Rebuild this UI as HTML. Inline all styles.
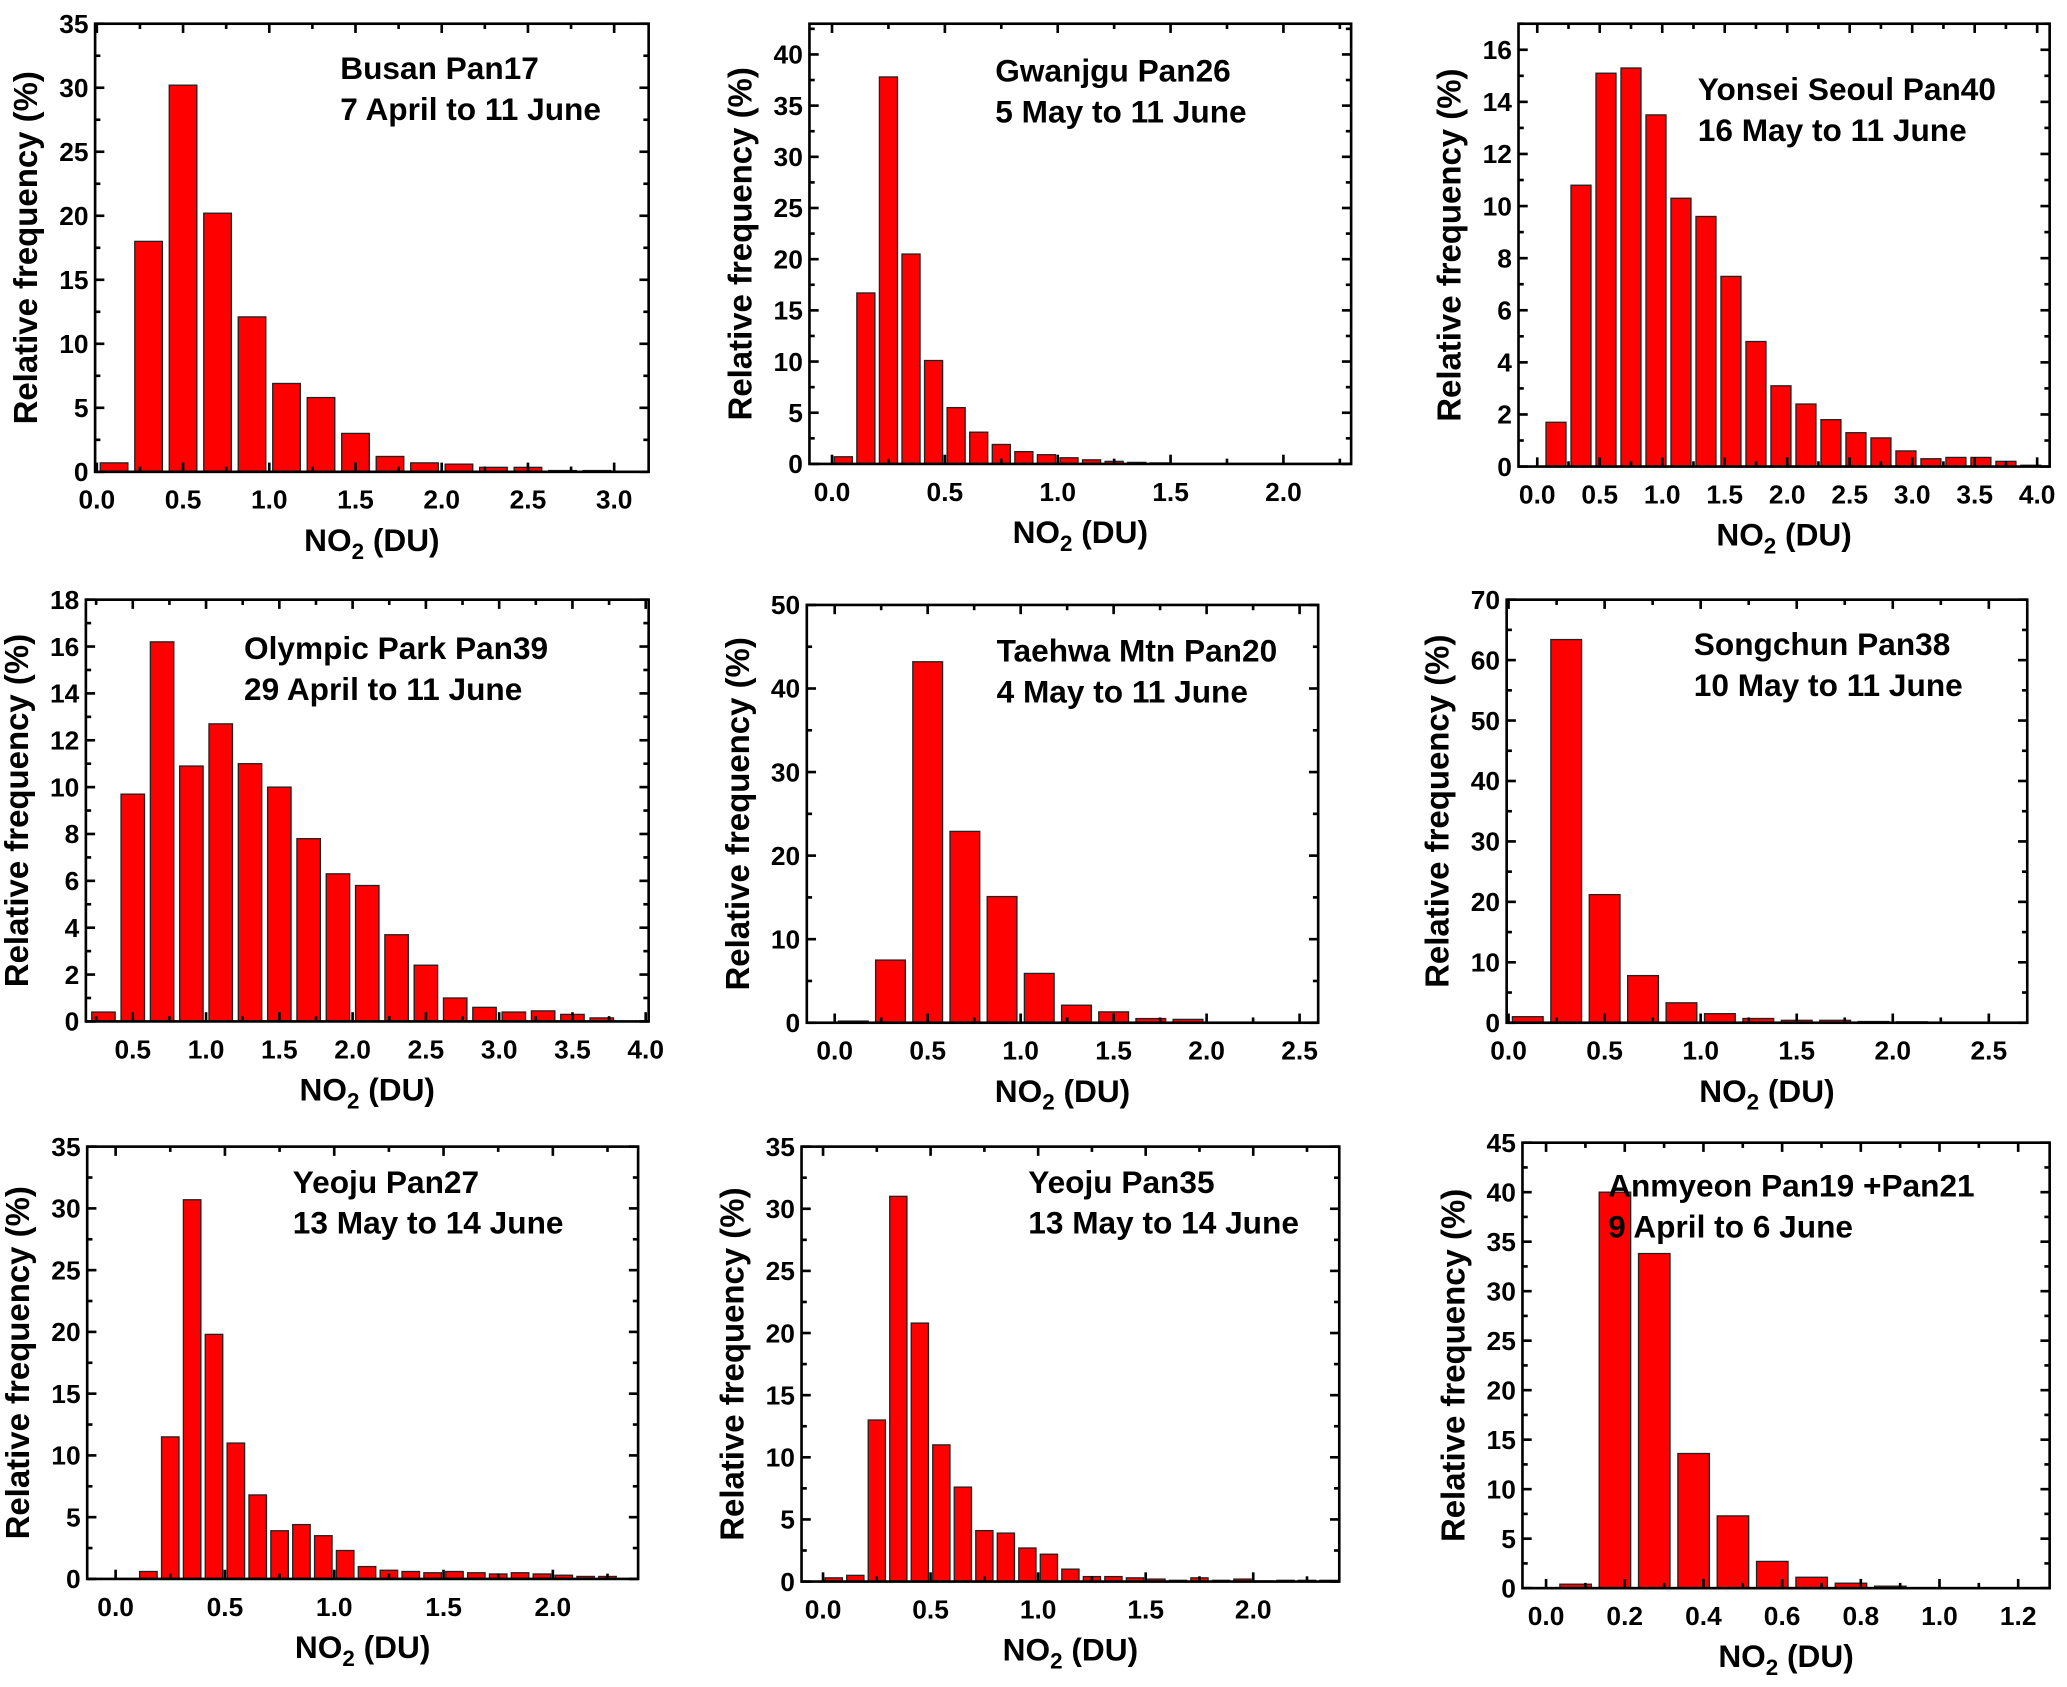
<!DOCTYPE html>
<html><head><meta charset="utf-8"><style>
html,body{margin:0;padding:0;background:#fff;}
svg{display:block;}
text{font-family:"Liberation Sans",Arial,sans-serif;font-weight:bold;fill:#000;}
</style></head><body>
<svg id="fig" width="2067" height="1687" viewBox="0 0 1568 1280" xmlns="http://www.w3.org/2000/svg"></svg>
<script>
// ---- data (relative frequency %, bin start and step in DU) ----
const busanValues = [0.7, 18.0, 30.2, 20.2, 12.1, 6.9, 5.8, 3.0, 1.2, 0.7, 0.6, 0.35, 0.35, 0.1, 0.1];
const gwangjuValues = [0.7, 16.7, 37.8, 20.5, 10.1, 5.5, 3.1, 1.9, 1.2, 0.9, 0.6, 0.4, 0.25, 0.15, 0.1];
const yonseiValues = [1.7, 10.8, 15.1, 15.3, 13.5, 10.3, 9.6, 7.3, 4.8, 3.1, 2.4, 1.8, 1.3, 1.1, 0.6, 0.3, 0.35, 0.35, 0.2, 0.05];
const olympicValues = [0.4, 9.7, 16.2, 10.9, 12.7, 11.0, 10.0, 7.8, 6.3, 5.8, 3.7, 2.4, 1.0, 0.6, 0.4, 0.45, 0.3, 0.15];
const taehwaValues = [0.2, 7.5, 43.2, 22.9, 15.1, 5.9, 2.1, 1.3, 0.5, 0.4, 0.05];
const songchunValues = [1.0, 63.4, 21.2, 7.8, 3.3, 1.5, 0.7, 0.4, 0.4, 0.2, 0.15, 0.1, 0.05];
const yeoju27Values = [0, 0.6, 11.5, 30.7, 19.8, 11.0, 6.8, 3.9, 4.4, 3.5, 2.3, 1.0, 0.7, 0.6, 0.5, 0.6, 0.5, 0.4, 0.5, 0.4, 0.3, 0.2, 0.2];
const yeoju35Values = [0.3, 0.5, 13.0, 31.0, 20.8, 11.0, 7.6, 4.1, 3.9, 2.7, 2.2, 1.0, 0.4, 0.4, 0.3, 0.2, 0.1, 0.3, 0.1, 0.2, 0.05, 0.1, 0.1, 0.1];
const anmyeonValues = [0.4, 40.0, 33.8, 13.6, 7.3, 2.7, 1.1, 0.5, 0.2];
const titles = [
 ["Busan Pan17","7 April  to 11 June"],["Gwanjgu Pan26","5 May to 11 June"],["Yonsei Seoul Pan40","16 May to 11 June"],
 ["Olympic Park Pan39","29 April to 11 June"],["Taehwa Mtn Pan20","4 May to 11 June"],["Songchun Pan38","10 May to 11 June"],
 ["Yeoju Pan27","13 May to 14 June"],["Yeoju Pan35","13 May to 14 June"],["Anmyeon Pan19 +Pan21","9 April to 6 June"]];
const binStart = [0.1,0.05,0.15,0.3,0.1,0.1,0.05,0.05,0.075];
const binStep = [0.2,0.1,0.2,0.2,0.2,0.2,0.1,0.1,0.1];
const xTickLabels = [
 ["0.0","0.5","1.0","1.5","2.0","2.5","3.0"],["0.0","0.5","1.0","1.5","2.0"],["0.0","0.5","1.0","1.5","2.0","2.5","3.0","3.5","4.0"],
 ["0.5","1.0","1.5","2.0","2.5","3.0","3.5","4.0"],["0.0","0.5","1.0","1.5","2.0","2.5"],["0.0","0.5","1.0","1.5","2.0","2.5"],
 ["0.0","0.5","1.0","1.5","2.0"],["0.0","0.5","1.0","1.5","2.0"],["0.0","0.2","0.4","0.6","0.8","1.0","1.2"]];
const yTickLabels = [
 ["0","5","10","15","20","25","30","35"],["0","5","10","15","20","25","30","35","40"],["0","2","4","6","8","10","12","14","16"],
 ["0","2","4","6","8","10","12","14","16","18"],["0","10","20","30","40","50"],["0","10","20","30","40","50","60","70"],
 ["0","5","10","15","20","25","30","35"],["0","5","10","15","20","25","30","35"],["0","5","10","15","20","25","30","35","40","45"]];
const seriesList = [busanValues,gwangjuValues,yonseiValues,olympicValues,taehwaValues,songchunValues,yeoju27Values,yeoju35Values,anmyeonValues];
const xDomains = [[-0.01,3.2],[-0.1,2.3],[-0.15,4.1],[0.18,4.02],[-0.15,2.6],[-0.01,2.7],[-0.13,2.39],[-0.1,2.4],[-0.06,1.28]];
const yMaxes = [35,43,17,18,50,70,35,35,45];

// ---- layout ----
const boxes = [[72,18,492,358],[614,18,1025,352],[1152,18,1555,354],[65,455,492,775],[612,459,1000,776],[1143,455,1538,776],[66,870,484,1198],[608,870,1016,1200],[1155,867,1555,1205]];
const titlePos = [[258,60],[755,62],[1288,76],[185,500],[756,502],[1285,497],[222,905],[780,905],[1220,908]];
const NS="http://www.w3.org/2000/svg";
const svg=document.getElementById('fig');
function mk(tag,attrs,parent){const e=document.createElementNS(NS,tag);for(const k in attrs)e.setAttribute(k,attrs[k]);(parent||svg).appendChild(e);return e;}

seriesList.forEach((vals,p)=>{
  const [x0,y0,x1,y1]=boxes[p];const [dmin,dmax]=xDomains[p];const ymax=yMaxes[p];
  const sx=v=>x0+(v-dmin)/(dmax-dmin)*(x1-x0);
  const sy=v=>y1-v/ymax*(y1-y0);
  const g=mk('g',{});
  
  
  const bw=binStep[p]*0.8;
  vals.forEach((v,i)=>{
    const c=binStart[p]+i*binStep[p];
    const r=mk('rect',{x:sx(c-bw/2),y:sy(v),width:sx(c+bw/2)-sx(c-bw/2),height:y1-sy(v),fill:'#ff0000',stroke:'#222','stroke-width':1},g);
    
    
  });
  const fr=mk('rect',{x:x0,y:y0,width:x1-x0,height:y1-y0,fill:'none',stroke:'#000','stroke-width':2},g);
  
  
  const xl=xTickLabels[p];const xs=parseFloat(xl[1])-parseFloat(xl[0]);
  for(let k=-1;k<=xl.length;k++){
    const v=parseFloat(xl[0])+k*xs;
    [v,v+xs/2].forEach((t,j)=>{
      if(t<dmin-1e-9||t>dmax+1e-9)return;const L=j?4:7;const X=sx(t);
      mk('line',{x1:X,y1:y1,x2:X,y2:y1-L,stroke:'#000','stroke-width':2},g);
      mk('line',{x1:X,y1:y0,x2:X,y2:y0+L,stroke:'#000','stroke-width':2},g);
    });
  }
  xl.forEach(s=>{const t=mk('text',{x:sx(parseFloat(s)),y:y1+28,'text-anchor':'middle','font-size':20},g);t.textContent=s;
    
    });
  const yl=yTickLabels[p];const ys=parseFloat(yl[1]);
  for(let k=0;k<=yl.length;k++){
    [k*ys,k*ys+ys/2].forEach((t,j)=>{
      if(t>ymax+1e-9)return;const L=j?4:7;const Y=sy(t);
      mk('line',{x1:x0,y1:Y,x2:x0+L,y2:Y,stroke:'#000','stroke-width':2},g);
      mk('line',{x1:x1,y1:Y,x2:x1-L,y2:Y,stroke:'#000','stroke-width':2},g);
    });
  }
  yl.forEach(s=>{const t=mk('text',{x:x0-5,y:sy(parseFloat(s))+7,'text-anchor':'end','font-size':20},g);t.textContent=s;
    
    });
  const yt=mk('text',{x:0,y:0,'text-anchor':'middle','font-size':25,transform:`translate(${x0-44},${(y0+y1)/2}) rotate(-90)`},g);
  yt.textContent='Relative frequency (%)';
  
  
  const xt=mk('text',{x:(x0+x1)/2,y:y1+60,'text-anchor':'middle','font-size':24},g);
  xt.innerHTML='NO<tspan dy="6" font-size="17">2</tspan><tspan dy="-6"> (DU)</tspan>';
  
  
  const [tx,ty]=titlePos[p];
  titles[p].forEach((line,i)=>{const t=mk('text',{x:tx,y:ty+i*31,'font-size':24},g);t.textContent=line;
    
    });
});
</script>
</body></html>
